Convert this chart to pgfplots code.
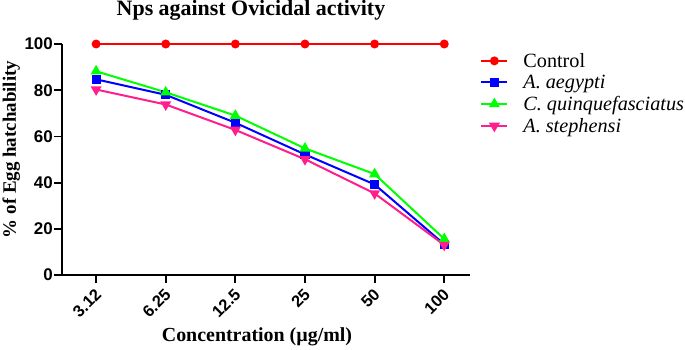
\documentclass[border=0pt]{standalone}
\usepackage{fontspec}
\setmainfont{Liberation Serif}
\newfontfamily\arialbf[BoldFont={Liberation Sans Bold}]{Liberation Sans}
\usepackage{pgfplots}
\pgfplotsset{compat=1.18}
\definecolor{cred}{RGB}{255,0,0}
\definecolor{cblue}{RGB}{0,0,255}
\definecolor{cgreen}{RGB}{0,255,0}
\definecolor{cpink}{RGB}{255,30,140}
\begin{document}
\begin{tikzpicture}
\useasboundingbox (-62bp,-75bp) rectangle (623bp,275bp);
\begin{axis}[
  at={(0,0)}, anchor=south west,
  scale only axis, width=408bp, height=231bp,
  xmin=-0.49, xmax=5.37, ymin=0, ymax=100,
  axis lines=left, axis line style={-, line width=1.8bp},
  clip=false,
  xtick={0,1,2,3,4,5}, xticklabels={3.12,6.25,12.5,25,50,100},
  ytick={0,20,40,60,80,100},
  tick align=outside, major tick length=8bp,
  tick style={line width=1.8bp, black},
  xticklabel style={xshift=3bp, yshift=-8bp, rotate=45, anchor=east, font=\fontsize{16.5}{19}\arialbf\bfseries, inner sep=1bp},
  yticklabel style={font=\fontsize{17}{19}\arialbf\bfseries, inner sep=1bp},
  /pgf/number format/assume math mode=true,
  title={Nps against Ovicidal activity},
  title style={font=\fontsize{22}{24}\selectfont\bfseries, at={(0.5,1)}, anchor=base, yshift=22.5bp, xshift=-15bp},
  xlabel={Concentration (µg/ml)},
  xlabel style={font=\fontsize{20}{22}\selectfont\bfseries, yshift=-4bp, xshift=-9bp},
  ylabel={\% of Egg hatchability},
  ylabel style={font=\fontsize{19}{21}\selectfont\bfseries, yshift=0bp, xshift=10bp},
  legend style={at={(1.025,0.97)}, anchor=north west, draw=none, fill=none,
    font=\fontsize{20.3}{22}\selectfont, row sep=2.3bp, inner sep=0bp,
    nodes={inner sep=2bp},
    /tikz/every odd column/.append style={column sep=13bp}},
  legend cell align=left,
  legend image code/.code={\draw[mark repeat=2,mark phase=2] plot coordinates {(0bp,0bp)(13bp,0bp)(26bp,0bp)};},
  every axis plot/.append style={line width=2bp},
]
\addplot[cred, line width=1.3bp, mark=*, mark size=3.8bp] coordinates {(0,100)(1,100)(2,100)(3,100)(4,100)(5,100)};
\addlegendentry{Control}
\addplot[cblue, mark=square*, mark size=3.6bp] coordinates {(0,84.7)(1,78)(2,65.9)(3,52.2)(4,39.2)(5,13.3)};
\addlegendentry{\textit{A. aegypti}}
\addplot[cgreen, mark=triangle*, mark size=4.4bp] coordinates {(0,88.2)(1,79.1)(2,69)(3,54.8)(4,43.7)(5,15.6)};
\addlegendentry{\textit{C. quinquefasciatus}}
\addplot[cpink, mark=triangle*, mark options={rotate=180}, mark size=4.4bp] coordinates {(0,80.3)(1,73.8)(2,62.8)(3,50.1)(4,35.3)(5,13)};
\addlegendentry{\textit{A. stephensi}}
\end{axis}
\end{tikzpicture}
\end{document}
